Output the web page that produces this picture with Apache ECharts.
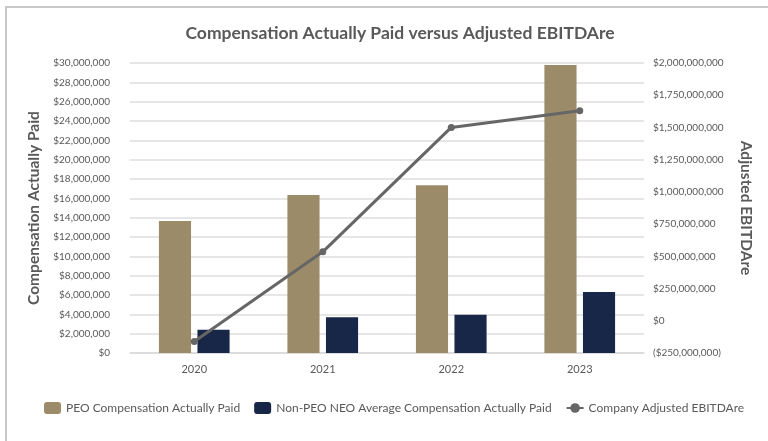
<!DOCTYPE html>
<html>
<head>
<meta charset="utf-8">
<script src="https://cdn.jsdelivr.net/npm/echarts@6/dist/echarts.min.js"></script>
<style>
  html, body { margin: 0; padding: 0; background: #fff; }
  #frame {
    position: absolute; left: 5px; top: 6px; width: 800px; height: 480px;
    border-left: 2px solid #c8c8c8; border-top: 2px solid #c8c8c8;
  }
  #chart { position: absolute; left: 0; top: 0; width: 768px; height: 441px; }
</style>
</head>
<body>
<div id="frame"></div>
<div id="chart"></div>
<script>
const years = ['2020', '2021', '2022', '2023']
const peoCap = [13650000, 16350000, 17350000, 29800000]
const nonPeoCap = [2400000, 3700000, 3950000, 6300000]
const adjEbitdare = [-160000000, 535000000, 1500000000, 1630000000]

const FONT = 'Lato'
const TXT = '#595959'

function money(v) {
  const s = '$' + Math.abs(v).toLocaleString('en-US')
  return v < 0 ? '(' + s + ')' : s
}

const chart = echarts.init(document.getElementById('chart'))
chart.setOption({
  animation: false,
  title: {
    text: 'Compensation Actually Paid versus Adjusted EBITDAre',
    left: 395, top: 19, textAlign: 'center',
    textStyle: { fontFamily: FONT, fontSize: 17.5, fontWeight: 'bold', color: TXT }
  },
  grid: { left: 130, right: 124, top: 63, bottom: 88 },
  legend: {
    bottom: 22, left: 39,
    itemWidth: 17, itemHeight: 12, itemGap: 14,
    textStyle: { fontFamily: FONT, fontSize: 12, color: TXT },
    data: ['PEO Compensation Actually Paid', 'Non-PEO NEO Average Compensation Actually Paid', 'Company Adjusted EBITDAre']
  },
  xAxis: {
    type: 'category', data: years,
    axisLine: { lineStyle: { color: '#d9d9d9', width: 1.5 } },
    axisTick: { show: false },
    axisLabel: { fontFamily: FONT, fontSize: 11, color: TXT, margin: 11 }
  },
  yAxis: [
    {
      type: 'value', min: 0, max: 30000000, interval: 2000000,
      name: 'Compensation Actually Paid', nameLocation: 'middle', nameGap: 71,
      nameTextStyle: { fontFamily: FONT, fontSize: 15.5, fontWeight: 'bold', color: TXT },
      axisLabel: { fontFamily: FONT, fontSize: 10, color: TXT, margin: 20, formatter: money },
      splitLine: { lineStyle: { color: '#dedede', width: 1.5 } }
    },
    {
      type: 'value', min: -250000000, max: 2000000000, interval: 250000000,
      position: 'right',
      name: 'Adjusted EBITDAre', nameLocation: 'middle', nameGap: 94, nameRotate: -90,
      nameTextStyle: { fontFamily: FONT, fontSize: 15.5, fontWeight: 'bold', color: TXT },
      axisLabel: { fontFamily: FONT, fontSize: 10, color: TXT, margin: 9, formatter: money },
      splitLine: { show: false }
    }
  ],
  series: [
    {
      name: 'PEO Compensation Actually Paid', type: 'bar', data: peoCap,
      barWidth: '25%', barGap: '20%',
      itemStyle: { color: '#9b8b69' }
    },
    {
      name: 'Non-PEO NEO Average Compensation Actually Paid', type: 'bar', data: nonPeoCap,
      barWidth: '25%',
      itemStyle: { color: '#182647' }
    },
    {
      name: 'Company Adjusted EBITDAre', type: 'line', yAxisIndex: 1, data: adjEbitdare,
      symbol: 'circle', symbolSize: 7,
      lineStyle: { color: '#666666', width: 3 },
      itemStyle: { color: '#666666' }
    }
  ]
})
</script>
</body>
</html>
